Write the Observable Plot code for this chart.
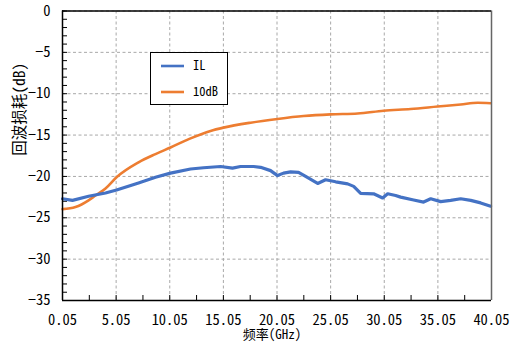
<!DOCTYPE html>
<html>
<head>
<meta charset="utf-8">
<script src="https://cdn.jsdelivr.net/npm/d3@7"></script>
<script src="https://cdn.jsdelivr.net/npm/@observablehq/plot@0.6"></script>
<style>
  html, body { margin: 0; padding: 0; background: #fff; }
  #wrap { position: relative; width: 510px; height: 346px; }
  #wrap svg text { font-feature-settings: "hwid" 1; }
  #legend {
    position: absolute; left: 150px; top: 52px; width: 76px; height: 51px;
    border: 1px solid #000; background: #fff;
  }
  #legend svg { display: block; }
</style>
</head>
<body>
<div id="wrap">
  <div id="legend"></div>
</div>
<script>
// Frequency sweep (GHz) and return loss (dB) for the two traces
const ilFreq = [0.05, 0.98, 2.48, 4.06, 5.09, 7.14, 8.72, 10.12, 11.99, 13.2, 14.79, 15.9, 16.65, 17.87, 18.52, 19.45, 20.1, 20.66, 21.32, 22.06, 22.72, 23.84, 24.58, 25.52, 26.64, 27.2, 27.85, 29.06, 29.9, 30.37, 31.11, 31.58, 32.79, 33.72, 34.38, 35.31, 36.24, 37.18, 38.11, 39.04, 39.97];
const ilLoss = [-22.7, -22.9, -22.4, -22.0, -21.65, -20.8, -20.1, -19.6, -19.1, -18.95, -18.8, -19.0, -18.8, -18.8, -18.9, -19.3, -19.9, -19.6, -19.45, -19.5, -20.0, -20.85, -20.4, -20.65, -20.9, -21.2, -22.05, -22.1, -22.6, -22.1, -22.3, -22.5, -22.85, -23.1, -22.7, -23.05, -22.9, -22.7, -22.9, -23.2, -23.6];

const atFreq = [0.05, 1.26, 2.48, 3.12, 4.06, 5.09, 7.14, 8.72, 10.12, 11.99, 13.85, 15.06, 17.59, 20.1, 22.53, 25.05, 27.57, 29.99, 32.51, 35.03, 37.18, 38.77, 39.97];
const atLoss = [-23.95, -23.7, -22.9, -22.3, -21.45, -20.1, -18.3, -17.3, -16.5, -15.4, -14.5, -14.1, -13.5, -13.05, -12.7, -12.5, -12.4, -12.05, -11.85, -11.55, -11.3, -11.1, -11.15];

const seriesNames = ["IL", "10dB"];
const seriesColors = ["#4472C4", "#ED7D31"];

// Axis ticks
const xMajor = [0.05, 5.05, 10.05, 15.05, 20.05, 25.05, 30.05, 35.05, 40.05];
const xMinor = d3.range(0, 17).map(i => 0.05 + i * 2.5);
const yMajor = [0, -5, -10, -15, -20, -25, -30, -35];
const yMinor = d3.range(0, 36).map(i => -i);

const W = 510, H = 346;
const mL = 62, mR = 19, mT = 10.5, mB = 46;
const plotW = W - mL - mR, plotH = H - mT - mB;
const font = "'Noto Sans CJK SC', sans-serif";

const ilData = ilFreq.map((f, i) => ({f, v: ilLoss[i]}));
const atData = atFreq.map((f, i) => ({f, v: atLoss[i]}));

const gridStyle = {stroke: "#a8a8a8", strokeOpacity: 1, strokeWidth: 1, strokeDasharray: "3,2.5"};

const chart = Plot.plot({
  width: W, height: H,
  marginLeft: mL, marginRight: mR, marginTop: mT, marginBottom: mB,
  x: {domain: [0.05, 40.05]},
  y: {domain: [-35, 0]},
  style: {fontFamily: font, fontSize: "14.5px", color: "#000", background: "#fff"},
  marks: [
    Plot.gridX(xMajor, gridStyle),
    Plot.gridY(yMajor, gridStyle),
    Plot.axisX(xMajor, {tickSize: 0, tickPadding: 14, tickFormat: d3.format(".2f"), label: null}),
    Plot.axisY(yMajor, {tickSize: 0, tickPadding: 12, label: null}),
    // inward-pointing tick marks
    Plot.tickX(xMinor, {x: d => d, insetTop: plotH - 5, stroke: "#000"}),
    Plot.tickY(yMinor, {y: d => d, insetRight: plotW - 5, stroke: "#000"}),
    Plot.line(atData, {x: "f", y: "v", stroke: seriesColors[1], strokeWidth: 2.6, curve: "monotone-x"}),
    Plot.line(ilData, {x: "f", y: "v", stroke: seriesColors[0], strokeWidth: 3.2}),
    // plot frame
    Plot.ruleX([40.05], {stroke: "#666", strokeWidth: 1.5}),
    Plot.ruleY([0], {stroke: "#000", strokeWidth: 1.3}),
    Plot.ruleY([-35], {stroke: "#000", strokeWidth: 1.5}),
    Plot.ruleX([0.05], {stroke: "#000", strokeWidth: 1.5}),
    // axis titles
    Plot.text(["回波损耗(dB)"], {frameAnchor: "left", dx: -42, rotate: -90, fontSize: 15.5, fill: "#000"}),
    Plot.text(["频率(GHz)"], {frameAnchor: "bottom", dy: 38.5, dx: -5, fontSize: 13, fill: "#000"})
  ]
});
document.getElementById("wrap").prepend(chart);

// Legend box
const lg = d3.select("#legend").append("svg").attr("width", 76).attr("height", 51);
seriesNames.forEach((name, i) => {
  const y = 13 + i * 26;
  lg.append("line").attr("x1", 10).attr("x2", 33).attr("y1", y).attr("y2", y)
    .attr("stroke", seriesColors[i]).attr("stroke-width", 2.6);
  lg.append("text").attr("x", 42).attr("y", y).attr("dy", "0.35em")
    .attr("font-family", font)
    .attr("font-size", 12.5).attr("fill", "#000").text(name);
});
</script>
</body>
</html>
